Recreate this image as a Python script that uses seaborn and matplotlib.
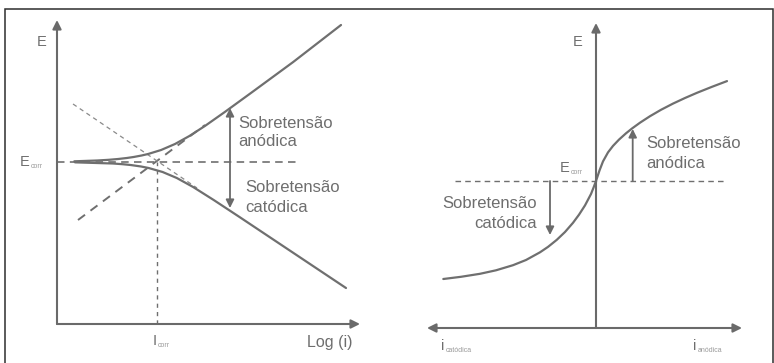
import matplotlib
matplotlib.use("Agg")
import matplotlib.pyplot as plt
from matplotlib.patches import Rectangle
import pandas as pd
import seaborn as sns

sns.set_theme(style="white")
plt.rcParams["font.family"] = ["Liberation Sans", "DejaVu Sans"]

# ---- Left panel: Tafel diagram, E versus log(i) ----
E_CORR_L = 16.2
I_CORR = 10.0

anodic_logi = [1.73, 4.02, 5.18, 6.11, 6.98, 7.66, 8.46, 9.11, 10.41, 11.8, 13.24, 14.79, 16.78, 19.53, 23.62, 28.4]
anodic_E = [16.27, 16.35, 16.42, 16.5, 16.6, 16.7, 16.85, 17.0, 17.4, 18.0, 18.8, 19.8, 21.2, 23.2, 26.2, 29.9]

cathodic_logi = [1.8, 5.58, 6.56, 7.36, 8.41, 9.16, 10.56, 11.98, 13.61, 15.67, 18.25, 22.0, 25.75, 28.9]
cathodic_E = [16.165, 16.05, 15.98, 15.9, 15.75, 15.6, 15.2, 14.6, 13.7, 12.4, 10.7, 8.2, 5.7, 3.6]

tafel_anodic_logi = [2.1, 14.8]
tafel_anodic_E = [10.4, 19.9]
tafel_cathodic_logi = [1.6, 14.0]
tafel_cathodic_E = [22.0, 13.6]

overpot_left_x = 17.3
overpot_left_anodic = 21.6
overpot_left_cathodic = 11.6

# ---- Right panel: polarization curve, E versus i ----
E_CORR_R = 14.7
curve_i = [-15.27, -13.5, -11.6, -10.0, -8.3, -7.0, -5.6, -4.8, -3.93, -3.1, -2.3, -1.7,
           -1.1, -0.5, -0.25, 0.0, 0.35, 0.7, 1.2, 1.7, 2.3, 3.0, 3.6, 4.4, 5.4, 6.5, 7.7,
           8.9, 10.1, 11.6, 13.1]
curve_E = [4.9, 5.12, 5.42, 5.77, 6.28, 6.8, 7.57, 8.11, 8.81, 9.6, 10.52, 11.33,
           12.26, 13.4, 14.03, 14.7, 15.75, 16.66, 17.56, 18.21, 18.84, 19.47, 19.95, 20.53, 21.18, 21.82, 22.44,
           23.0, 23.52, 24.12, 24.69]

overpot_right_anodic_x = 3.67
overpot_right_anodic_tip = 19.9
overpot_right_cathodic_x = -4.6
overpot_right_cathodic_tip = 9.3

LINE = "#6f6f6f"
AXIS = "#6a6a6a"
TEXT = "#6e6e6e"
SUB = "#9a9a9a"

W, H = 774, 363
fig = plt.figure(figsize=(W / 100, H / 100), dpi=100)
fig.patch.set_facecolor("white")

# outer frame
fig.add_artist(Rectangle((5 / W, -0.2), 768 / W, 1.2 - 8.5 / H,
                         transform=fig.transFigure, fill=False,
                         edgecolor="#2e2e2e", lw=1.1))

# left axes: 1 data unit = 10 px, origin at pixel (57, 324)
axL = fig.add_axes([0, 0, 0.5, 1])
axL.set_xlim(-5.7, 33.0)
axL.set_ylim(-3.9, 32.4)
axL.axis("off")

# right axes: origin at pixel (596, 328)
axR = fig.add_axes([0.5, 0, 0.5, 1])
axR.set_xlim(-20.9, 17.8)
axR.set_ylim(-3.5, 32.8)
axR.axis("off")

def arrow(ax, start, end, style="-|>", lw=1.4, scale=12, color=AXIS):
    ax.annotate("", xy=end, xytext=start,
                arrowprops=dict(arrowstyle=style, color=color, lw=lw,
                                mutation_scale=scale, shrinkA=0, shrinkB=0))

# ---------- left panel ----------
arrow(axL, (0, 0), (0, 30.4), lw=1.5, scale=13)
arrow(axL, (0, 0), (30.3, 0), lw=1.5, scale=13)

axL.plot([0, 24.3], [E_CORR_L, E_CORR_L], color=LINE, lw=1.2, ls=(0, (4.5, 3.2)))
axL.plot([I_CORR, I_CORR], [0, E_CORR_L], color=LINE, lw=1.0, ls=(0, (3, 3)))

sns.lineplot(x=tafel_anodic_logi, y=tafel_anodic_E, ax=axL, color=LINE,
             lw=1.4, ls=(0, (4.5, 3.5)), sort=False, estimator=None)
sns.lineplot(x=tafel_cathodic_logi, y=tafel_cathodic_E, ax=axL, color="#8a8a8a",
             lw=0.9, ls=(0, (3.5, 3)), sort=False, estimator=None)

sns.lineplot(data=pd.DataFrame({"logi": anodic_logi, "E": anodic_E}),
             x="logi", y="E", ax=axL, color=LINE, lw=1.6, sort=False, estimator=None)
sns.lineplot(data=pd.DataFrame({"logi": cathodic_logi, "E": cathodic_E}),
             x="logi", y="E", ax=axL, color=LINE, lw=1.6, sort=False, estimator=None)

arrow(axL, (overpot_left_x, E_CORR_L), (overpot_left_x, overpot_left_anodic), lw=1.3, scale=12)
arrow(axL, (overpot_left_x, E_CORR_L), (overpot_left_x, overpot_left_cathodic), lw=1.3, scale=12)

fs = 12
axL.text(18.1, 20.1, "Sobretensão", fontsize=fs, color=TEXT, va="center", ha="left")
axL.text(18.1, 18.2, "anódica", fontsize=fs, color=TEXT, va="center", ha="left")
axL.text(18.8, 13.6, "Sobretensão", fontsize=fs, color=TEXT, va="center", ha="left")
axL.text(18.8, 11.6, "catódica", fontsize=fs, color=TEXT, va="center", ha="left")

axL.text(-2.0, 28.2, "E", fontsize=10.5, color=TEXT, va="center", ha="left")
axL.text(-3.7, 16.2, "E", fontsize=10.5, color=TEXT, va="center", ha="left")
axL.text(-2.6, 15.75, "corr", fontsize=5, color=SUB, va="center", ha="left")
axL.text(9.6, -1.7, "I", fontsize=10.5, color=TEXT, va="center", ha="left")
axL.text(10.05, -2.15, "corr", fontsize=5, color=SUB, va="center", ha="left")
axL.text(27.3, -1.8, "Log (i)", fontsize=11.5, color=TEXT, va="center", ha="center")

# ---------- right panel ----------
arrow(axR, (0, 0), (0, 30.5), lw=1.5, scale=13)
arrow(axR, (-16.9, 0), (14.6, 0), style="<|-|>", lw=1.5, scale=13)

axR.plot([-14.1, 12.9], [E_CORR_R, E_CORR_R], color=LINE, lw=1.0, ls=(0, (4, 3)))

sns.lineplot(data=pd.DataFrame({"i": curve_i, "E": curve_E}),
             x="i", y="E", ax=axR, color=LINE, lw=1.6, sort=False, estimator=None)

arrow(axR, (overpot_right_anodic_x, E_CORR_R), (overpot_right_anodic_x, overpot_right_anodic_tip), lw=1.3, scale=12)
arrow(axR, (overpot_right_cathodic_x, E_CORR_R), (overpot_right_cathodic_x, overpot_right_cathodic_tip), lw=1.3, scale=12)

axR.text(5.0, 18.5, "Sobretensão", fontsize=fs, color=TEXT, va="center", ha="left")
axR.text(5.0, 16.5, "anódica", fontsize=fs, color=TEXT, va="center", ha="left")
axR.text(-5.9, 12.5, "Sobretensão", fontsize=fs, color=TEXT, va="center", ha="right")
axR.text(-5.9, 10.5, "catódica", fontsize=fs, color=TEXT, va="center", ha="right")

axR.text(-2.3, 28.6, "E", fontsize=10.5, color=TEXT, va="center", ha="left")
axR.text(-3.6, 16.0, "E", fontsize=10.5, color=TEXT, va="center", ha="left")
axR.text(-2.5, 15.55, "corr", fontsize=5, color=SUB, va="center", ha="left")
axR.text(-15.5, -1.8, "i", fontsize=10.5, color=TEXT, va="center", ha="left")
axR.text(-15.05, -2.2, "catódica", fontsize=5, color=SUB, va="center", ha="left")
axR.text(9.7, -1.8, "i", fontsize=10.5, color=TEXT, va="center", ha="left")
axR.text(10.15, -2.2, "anódica", fontsize=5, color=SUB, va="center", ha="left")

for ax in (axL, axR):
    leg = ax.get_legend()
    if leg is not None:
        leg.remove()

fig.savefig("out.png", dpi=100)
